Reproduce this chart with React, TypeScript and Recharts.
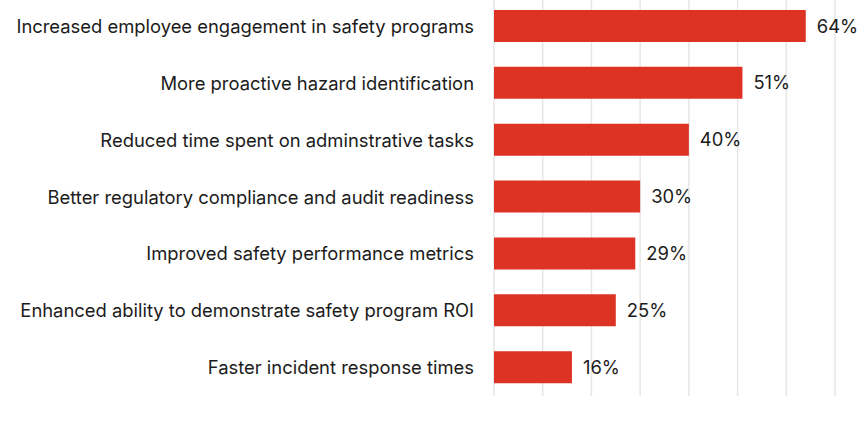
import React from "react";
import { BarChart, Bar, XAxis, YAxis, CartesianGrid, LabelList } from "recharts";

const categories = [
  "Increased employee engagement in safety programs",
  "More proactive hazard identification ",
  "Reduced time spent on adminstrative tasks",
  "Better regulatory compliance and audit readiness",
  "Improved safety performance metrics",
  "Enhanced ability to demonstrate safety program ROI",
  "Faster incident response times",
];
const values = [64, 51, 40, 30, 29, 25, 16];
const xTicks = [0, 10, 20, 30, 40, 50, 60, 70];

const data = categories.map((name, i) => ({ name, value: values[i] }));

const FONT = "Inter, 'Noto Sans', sans-serif";
const TEXT = "#1c1c1c";
const RED = "#DC3324";

export default function App() {
  return (
    <div style={{ position: "absolute", left: 0, top: -2 }}>
      <BarChart
        width={864}
        height={424}
        data={data}
        layout="vertical"
        margin={{ top: 0, right: 29, bottom: 26, left: 0 }}
      >
        <CartesianGrid horizontal={false} vertical={true} stroke="#e6e6e6" strokeWidth={1.5} />
        <XAxis type="number" domain={[0, 70]} ticks={xTicks} hide />
        <YAxis
          type="category"
          dataKey="name"
          width={494}
          axisLine={false}
          tickLine={false}
          tickSize={0}
          tickMargin={20}
          interval={0}
          tick={{ fill: TEXT, fontSize: 18.4, fontFamily: FONT }}
        />
        <Bar dataKey="value" fill={RED} barSize={32} isAnimationActive={false}>
          <LabelList
            dataKey="value"
            position="right"
            offset={11}
            formatter={(v: number) => `${v}%`}
            style={{ fill: TEXT, fontSize: 18.4, fontFamily: FONT }}
          />
        </Bar>
      </BarChart>
    </div>
  );
}
